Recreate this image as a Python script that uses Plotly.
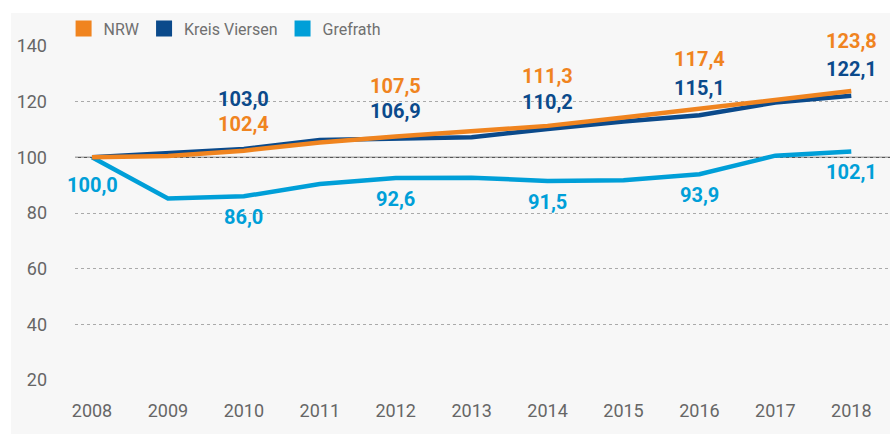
import plotly.graph_objects as go

years = [2008, 2009, 2010, 2011, 2012, 2013, 2014, 2015, 2016, 2017, 2018]
nrw = [100.0, 100.5, 102.4, 105.3, 107.5, 109.2, 111.3, 114.3, 117.4, 120.8, 123.8]
kreis = [100.0, 101.7, 103.0, 106.2, 106.9, 107.2, 110.2, 112.9, 115.1, 119.7, 122.1]
grefrath = [100.0, 85.2, 86.0, 90.4, 92.6, 92.7, 91.5, 91.8, 93.9, 100.6, 102.1]

label_years_top = [2010, 2012, 2014, 2016, 2018]
label_years_gref = [2008, 2010, 2012, 2014, 2016, 2018]
y_ticks = [20, 40, 60, 80, 100, 120, 140]

C_NRW = "#f0841f"
C_KREIS = "#0b4a8b"
C_GREF = "#009fd8"
FONT = "Roboto"

fig = go.Figure()
fig.add_trace(go.Scatter(x=years, y=grefrath, mode="lines", line=dict(color=C_GREF, width=4.5),
                         showlegend=False, hoverinfo="skip"))
fig.add_trace(go.Scatter(x=years, y=kreis, mode="lines", line=dict(color=C_KREIS, width=4.5),
                         showlegend=False, hoverinfo="skip"))
fig.add_trace(go.Scatter(x=years, y=nrw, mode="lines", line=dict(color=C_NRW, width=4.5),
                         showlegend=False, hoverinfo="skip"))

for name, col in [("NRW", C_NRW), ("Kreis Viersen", C_KREIS), ("Grefrath", C_GREF)]:
    fig.add_trace(go.Scatter(x=[None], y=[None], mode="markers", name=name,
                             marker=dict(symbol="square", size=16, color=col)))

def fmt(v):
    return f"{v:.1f}".replace(".", ",")

ann = []
for yr in label_years_top:
    i = years.index(yr)
    a, b = nrw[i], kreis[i]
    for v, col, other in [(a, C_NRW, b), (b, C_KREIS, a)]:
        shift = 50 if v >= other else 27
        ann.append(dict(x=yr, y=v, text=fmt(v), showarrow=False, yshift=shift,
                        font=dict(family=FONT, size=20, color=col, weight="bold")))
for yr in label_years_gref:
    i = years.index(yr)
    v = grefrath[i]
    shift = -28 if yr == 2008 else -21
    ann.append(dict(x=yr, y=v, text=fmt(v), showarrow=False, yshift=shift,
                    font=dict(family=FONT, size=20, color=C_GREF, weight="bold")))

shapes = [
    dict(type="rect", xref="paper", yref="paper", x0=-0.0785, x1=1.0, y0=-0.17, y1=1.099,
         fillcolor="#f7f7f7", line=dict(width=0), layer="below"),
    dict(type="line", xref="paper", yref="y", x0=0, x1=1, y0=100, y1=100,
         line=dict(color="#555555", width=1.2), layer="below"),
]

fig.update_layout(
    width=890, height=434,
    margin=dict(l=75, r=0, t=46, b=54),
    paper_bgcolor="white", plot_bgcolor="rgba(0,0,0,0)",
    annotations=ann, shapes=shapes,
    font=dict(family=FONT, color="#666666"),
    legend=dict(orientation="h", x=-0.014, y=1.052, xanchor="left", yanchor="middle",
                font=dict(family=FONT, size=16, color="#707070"), bgcolor="rgba(0,0,0,0)",
                itemclick=False, itemdoubleclick=False),
    xaxis=dict(range=[2007.776, 2018.51], tickvals=years, ticktext=[str(y) for y in years],
               showgrid=False, zeroline=False, showline=False,
               ticks="outside", ticklen=0, ticklabelstandoff=14,
               tickfont=dict(family=FONT, size=18, color="#666666"), fixedrange=True),
    yaxis=dict(range=[20, 140], tickvals=y_ticks, showgrid=True, gridcolor="#aaaaaa",
               griddash="dot", gridwidth=1, zeroline=False, showline=False,
               ticklabelstandoff=27,
               tickfont=dict(family=FONT, size=18, color="#666666"), fixedrange=True),
)

fig.write_html("out.html", config={"displayModeBar": False},
               post_script="document.body.style.margin='0';")
